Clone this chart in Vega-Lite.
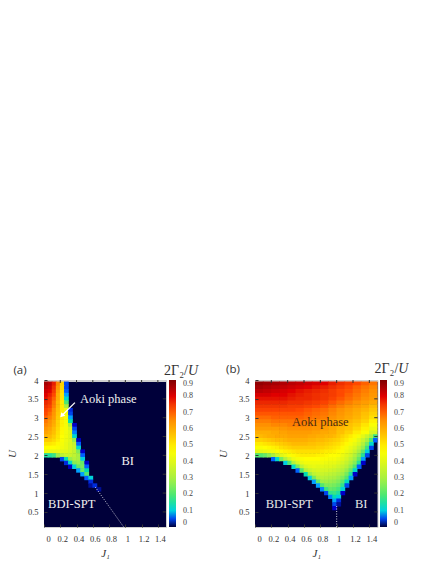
{"$schema":"https://vega.github.io/schema/vega-lite/v6.json","background":"white","padding":{"left":5,"top":361,"right":0,"bottom":0},"spacing":17,"config":{"view":{"fill":"#cfcfcf","stroke":"#cfcfcf"},"axis":{"grid":false,"domain":false,"labelFont":"Liberation Serif","labelFontSize":8.5,"labelColor":"#333333","tickColor":"#333333","titleFont":"Liberation Serif","titleFontStyle":"italic","titleFontWeight":"normal","titleFontSize":11,"titleColor":"#333333"}},
"datasets":{
"frame":[{"J":0,"J2":1.5,"U":0.1,"U2":3.95,"v":0}],
"topTicks":[{"J":0.2,"U":4,"U2":3.92},{"J":0.4,"U":4,"U2":3.92},{"J":0.6,"U":4,"U2":3.92},{"J":0.8,"U":4,"U2":3.92},{"J":1,"U":4,"U2":3.92},{"J":1.2,"U":4,"U2":3.92},{"J":1.4,"U":4,"U2":3.92}],
"rightTicks":[{"J":1.5,"J2":1.46,"U":0.5},{"J":1.5,"J2":1.46,"U":1},{"J":1.5,"J2":1.46,"U":1.5},{"J":1.5,"J2":1.46,"U":2},{"J":1.5,"J2":1.46,"U":2.5},{"J":1.5,"J2":1.46,"U":3},{"J":1.5,"J2":1.46,"U":3.5}],
"cellsA":[
{"J":0.025,"U":3.9,"v":0.86},{"J":0.075,"U":3.9,"v":0.84},{"J":0.125,"U":3.9,"v":0.78},{"J":0.175,"U":3.9,"v":0.66},{"J":0.225,"U":3.9,"v":0.54},{"J":0.275,"U":3.9,"v":0.05},
{"J":0.025,"U":3.8,"v":0.84},{"J":0.075,"U":3.8,"v":0.82},{"J":0.125,"U":3.8,"v":0.76},{"J":0.175,"U":3.8,"v":0.64},{"J":0.225,"U":3.8,"v":0.53},{"J":0.275,"U":3.8,"v":0.05},
{"J":0.025,"U":3.7,"v":0.82},{"J":0.075,"U":3.7,"v":0.8},{"J":0.125,"U":3.7,"v":0.74},{"J":0.175,"U":3.7,"v":0.62},{"J":0.225,"U":3.7,"v":0.52},{"J":0.275,"U":3.7,"v":0.06},
{"J":0.025,"U":3.6,"v":0.8},{"J":0.075,"U":3.6,"v":0.78},{"J":0.125,"U":3.6,"v":0.72},{"J":0.175,"U":3.6,"v":0.6},{"J":0.225,"U":3.6,"v":0.51},{"J":0.275,"U":3.6,"v":0.08},
{"J":0.025,"U":3.5,"v":0.79},{"J":0.075,"U":3.5,"v":0.76},{"J":0.125,"U":3.5,"v":0.7},{"J":0.175,"U":3.5,"v":0.6},{"J":0.225,"U":3.5,"v":0.51},{"J":0.275,"U":3.5,"v":0.12},
{"J":0.025,"U":3.4,"v":0.77},{"J":0.075,"U":3.4,"v":0.75},{"J":0.125,"U":3.4,"v":0.68},{"J":0.175,"U":3.4,"v":0.58},{"J":0.225,"U":3.4,"v":0.5},{"J":0.275,"U":3.4,"v":0.2},
{"J":0.025,"U":3.3,"v":0.75},{"J":0.075,"U":3.3,"v":0.73},{"J":0.125,"U":3.3,"v":0.67},{"J":0.175,"U":3.3,"v":0.58},{"J":0.225,"U":3.3,"v":0.5},{"J":0.275,"U":3.3,"v":0.3},
{"J":0.025,"U":3.2,"v":0.73},{"J":0.075,"U":3.2,"v":0.71},{"J":0.125,"U":3.2,"v":0.65},{"J":0.175,"U":3.2,"v":0.57},{"J":0.225,"U":3.2,"v":0.5},{"J":0.275,"U":3.2,"v":0.43},{"J":0.325,"U":3.2,"v":0.04},
{"J":0.025,"U":3.1,"v":0.72},{"J":0.075,"U":3.1,"v":0.69},{"J":0.125,"U":3.1,"v":0.64},{"J":0.175,"U":3.1,"v":0.56},{"J":0.225,"U":3.1,"v":0.5},{"J":0.275,"U":3.1,"v":0.44},{"J":0.325,"U":3.1,"v":0.05},
{"J":0.025,"U":3.0,"v":0.7},{"J":0.075,"U":3.0,"v":0.67},{"J":0.125,"U":3.0,"v":0.63},{"J":0.175,"U":3.0,"v":0.55},{"J":0.225,"U":3.0,"v":0.5},{"J":0.275,"U":3.0,"v":0.45},{"J":0.325,"U":3.0,"v":0.08},
{"J":0.025,"U":2.9,"v":0.68},{"J":0.075,"U":2.9,"v":0.65},{"J":0.125,"U":2.9,"v":0.61},{"J":0.175,"U":2.9,"v":0.54},{"J":0.225,"U":2.9,"v":0.49},{"J":0.275,"U":2.9,"v":0.45},{"J":0.325,"U":2.9,"v":0.14},
{"J":0.025,"U":2.8,"v":0.66},{"J":0.075,"U":2.8,"v":0.64},{"J":0.125,"U":2.8,"v":0.6},{"J":0.175,"U":2.8,"v":0.54},{"J":0.225,"U":2.8,"v":0.49},{"J":0.275,"U":2.8,"v":0.45},{"J":0.325,"U":2.8,"v":0.3},{"J":0.375,"U":2.8,"v":0.03},
{"J":0.025,"U":2.7,"v":0.64},{"J":0.075,"U":2.7,"v":0.62},{"J":0.125,"U":2.7,"v":0.58},{"J":0.175,"U":2.7,"v":0.53},{"J":0.225,"U":2.7,"v":0.48},{"J":0.275,"U":2.7,"v":0.45},{"J":0.325,"U":2.7,"v":0.38},{"J":0.375,"U":2.7,"v":0.05},
{"J":0.025,"U":2.6,"v":0.62},{"J":0.075,"U":2.6,"v":0.6},{"J":0.125,"U":2.6,"v":0.57},{"J":0.175,"U":2.6,"v":0.52},{"J":0.225,"U":2.6,"v":0.48},{"J":0.275,"U":2.6,"v":0.44},{"J":0.325,"U":2.6,"v":0.4},{"J":0.375,"U":2.6,"v":0.07},
{"J":0.025,"U":2.5,"v":0.59},{"J":0.075,"U":2.5,"v":0.58},{"J":0.125,"U":2.5,"v":0.55},{"J":0.175,"U":2.5,"v":0.51},{"J":0.225,"U":2.5,"v":0.47},{"J":0.275,"U":2.5,"v":0.44},{"J":0.325,"U":2.5,"v":0.4},{"J":0.375,"U":2.5,"v":0.12},
{"J":0.025,"U":2.4,"v":0.55},{"J":0.075,"U":2.4,"v":0.55},{"J":0.125,"U":2.4,"v":0.53},{"J":0.175,"U":2.4,"v":0.5},{"J":0.225,"U":2.4,"v":0.46},{"J":0.275,"U":2.4,"v":0.43},{"J":0.325,"U":2.4,"v":0.4},{"J":0.375,"U":2.4,"v":0.28},{"J":0.425,"U":2.4,"v":0.03},
{"J":0.025,"U":2.3,"v":0.51},{"J":0.075,"U":2.3,"v":0.51},{"J":0.125,"U":2.3,"v":0.5},{"J":0.175,"U":2.3,"v":0.48},{"J":0.225,"U":2.3,"v":0.45},{"J":0.275,"U":2.3,"v":0.42},{"J":0.325,"U":2.3,"v":0.39},{"J":0.375,"U":2.3,"v":0.35},{"J":0.425,"U":2.3,"v":0.06},
{"J":0.025,"U":2.2,"v":0.47},{"J":0.075,"U":2.2,"v":0.47},{"J":0.125,"U":2.2,"v":0.47},{"J":0.175,"U":2.2,"v":0.46},{"J":0.225,"U":2.2,"v":0.44},{"J":0.275,"U":2.2,"v":0.42},{"J":0.325,"U":2.2,"v":0.39},{"J":0.375,"U":2.2,"v":0.36},{"J":0.425,"U":2.2,"v":0.12},
{"J":0.025,"U":2.1,"v":0.42},{"J":0.075,"U":2.1,"v":0.42},{"J":0.125,"U":2.1,"v":0.42},{"J":0.175,"U":2.1,"v":0.42},{"J":0.225,"U":2.1,"v":0.41},{"J":0.275,"U":2.1,"v":0.4},{"J":0.325,"U":2.1,"v":0.38},{"J":0.375,"U":2.1,"v":0.35},{"J":0.425,"U":2.1,"v":0.25},{"J":0.475,"U":2.1,"v":0.03},
{"J":0.025,"U":2.0,"v":0.15},{"J":0.075,"U":2.0,"v":0.15},{"J":0.125,"U":2.0,"v":0.18},{"J":0.175,"U":2.0,"v":0.28},{"J":0.225,"U":2.0,"v":0.33},{"J":0.275,"U":2.0,"v":0.36},{"J":0.325,"U":2.0,"v":0.36},{"J":0.375,"U":2.0,"v":0.34},{"J":0.425,"U":2.0,"v":0.3},{"J":0.475,"U":2.0,"v":0.06},
{"J":0.225,"U":1.9,"v":0.05},{"J":0.275,"U":1.9,"v":0.14},{"J":0.325,"U":1.9,"v":0.28},{"J":0.375,"U":1.9,"v":0.32},{"J":0.425,"U":1.9,"v":0.3},{"J":0.475,"U":1.9,"v":0.1},
{"J":0.275,"U":1.8,"v":0.04},{"J":0.325,"U":1.8,"v":0.12},{"J":0.375,"U":1.8,"v":0.26},{"J":0.425,"U":1.8,"v":0.28},{"J":0.475,"U":1.8,"v":0.22},{"J":0.525,"U":1.8,"v":0.03},
{"J":0.325,"U":1.7,"v":0.03},{"J":0.375,"U":1.7,"v":0.1},{"J":0.425,"U":1.7,"v":0.22},{"J":0.475,"U":1.7,"v":0.24},{"J":0.525,"U":1.7,"v":0.06},
{"J":0.425,"U":1.6,"v":0.08},{"J":0.475,"U":1.6,"v":0.22},{"J":0.525,"U":1.6,"v":0.14},
{"J":0.475,"U":1.5,"v":0.08},{"J":0.525,"U":1.5,"v":0.2},
{"J":0.525,"U":1.4,"v":0.06},{"J":0.575,"U":1.4,"v":0.11},
{"J":0.575,"U":1.3,"v":0.04},
{"J":0.575,"U":1.2,"v":0.02},{"J":0.625,"U":1.2,"v":0.04},
{"J":0.675,"U":1.1,"v":0.02}],
"coarseB":[
{"J":0.05,"U":3.9,"v":0.88},{"J":0.15,"U":3.9,"v":0.87},{"J":0.25,"U":3.9,"v":0.86},{"J":0.35,"U":3.9,"v":0.85},{"J":0.45,"U":3.9,"v":0.84},{"J":0.55,"U":3.9,"v":0.83},{"J":0.65,"U":3.9,"v":0.82},{"J":0.75,"U":3.9,"v":0.81},{"J":0.85,"U":3.9,"v":0.8},{"J":0.95,"U":3.9,"v":0.78},{"J":1.05,"U":3.9,"v":0.76},{"J":1.15,"U":3.9,"v":0.74},{"J":1.25,"U":3.9,"v":0.72},{"J":1.35,"U":3.9,"v":0.7},{"J":1.45,"U":3.9,"v":0.68},
{"J":0.05,"U":3.8,"v":0.86},{"J":0.15,"U":3.8,"v":0.85},{"J":0.25,"U":3.8,"v":0.84},{"J":0.35,"U":3.8,"v":0.83},{"J":0.45,"U":3.8,"v":0.82},{"J":0.55,"U":3.8,"v":0.81},{"J":0.65,"U":3.8,"v":0.8},{"J":0.75,"U":3.8,"v":0.79},{"J":0.85,"U":3.8,"v":0.78},{"J":0.95,"U":3.8,"v":0.76},{"J":1.05,"U":3.8,"v":0.74},{"J":1.15,"U":3.8,"v":0.72},{"J":1.25,"U":3.8,"v":0.7},{"J":1.35,"U":3.8,"v":0.68},{"J":1.45,"U":3.8,"v":0.66},
{"J":0.05,"U":3.7,"v":0.84},{"J":0.15,"U":3.7,"v":0.83},{"J":0.25,"U":3.7,"v":0.82},{"J":0.35,"U":3.7,"v":0.81},{"J":0.45,"U":3.7,"v":0.8},{"J":0.55,"U":3.7,"v":0.79},{"J":0.65,"U":3.7,"v":0.78},{"J":0.75,"U":3.7,"v":0.77},{"J":0.85,"U":3.7,"v":0.76},{"J":0.95,"U":3.7,"v":0.74},{"J":1.05,"U":3.7,"v":0.72},{"J":1.15,"U":3.7,"v":0.71},{"J":1.25,"U":3.7,"v":0.69},{"J":1.35,"U":3.7,"v":0.67},{"J":1.45,"U":3.7,"v":0.65},
{"J":0.05,"U":3.6,"v":0.81},{"J":0.15,"U":3.6,"v":0.81},{"J":0.25,"U":3.6,"v":0.8},{"J":0.35,"U":3.6,"v":0.8},{"J":0.45,"U":3.6,"v":0.79},{"J":0.55,"U":3.6,"v":0.78},{"J":0.65,"U":3.6,"v":0.77},{"J":0.75,"U":3.6,"v":0.76},{"J":0.85,"U":3.6,"v":0.75},{"J":0.95,"U":3.6,"v":0.74},{"J":1.05,"U":3.6,"v":0.72},{"J":1.15,"U":3.6,"v":0.7},{"J":1.25,"U":3.6,"v":0.68},{"J":1.35,"U":3.6,"v":0.66},{"J":1.45,"U":3.6,"v":0.64},
{"J":0.05,"U":3.5,"v":0.79},{"J":0.15,"U":3.5,"v":0.79},{"J":0.25,"U":3.5,"v":0.79},{"J":0.35,"U":3.5,"v":0.79},{"J":0.45,"U":3.5,"v":0.78},{"J":0.55,"U":3.5,"v":0.77},{"J":0.65,"U":3.5,"v":0.77},{"J":0.75,"U":3.5,"v":0.76},{"J":0.85,"U":3.5,"v":0.75},{"J":0.95,"U":3.5,"v":0.73},{"J":1.05,"U":3.5,"v":0.71},{"J":1.15,"U":3.5,"v":0.69},{"J":1.25,"U":3.5,"v":0.67},{"J":1.35,"U":3.5,"v":0.65},{"J":1.45,"U":3.5,"v":0.63},
{"J":0.05,"U":3.4,"v":0.77},{"J":0.15,"U":3.4,"v":0.77},{"J":0.25,"U":3.4,"v":0.77},{"J":0.35,"U":3.4,"v":0.77},{"J":0.45,"U":3.4,"v":0.76},{"J":0.55,"U":3.4,"v":0.76},{"J":0.65,"U":3.4,"v":0.75},{"J":0.75,"U":3.4,"v":0.74},{"J":0.85,"U":3.4,"v":0.73},{"J":0.95,"U":3.4,"v":0.71},{"J":1.05,"U":3.4,"v":0.69},{"J":1.15,"U":3.4,"v":0.67},{"J":1.25,"U":3.4,"v":0.65},{"J":1.35,"U":3.4,"v":0.63},{"J":1.45,"U":3.4,"v":0.61},
{"J":0.05,"U":3.3,"v":0.75},{"J":0.15,"U":3.3,"v":0.75},{"J":0.25,"U":3.3,"v":0.75},{"J":0.35,"U":3.3,"v":0.75},{"J":0.45,"U":3.3,"v":0.74},{"J":0.55,"U":3.3,"v":0.74},{"J":0.65,"U":3.3,"v":0.73},{"J":0.75,"U":3.3,"v":0.72},{"J":0.85,"U":3.3,"v":0.71},{"J":0.95,"U":3.3,"v":0.69},{"J":1.05,"U":3.3,"v":0.67},{"J":1.15,"U":3.3,"v":0.65},{"J":1.25,"U":3.3,"v":0.63},{"J":1.35,"U":3.3,"v":0.61},{"J":1.45,"U":3.3,"v":0.58},
{"J":0.05,"U":3.2,"v":0.73},{"J":0.15,"U":3.2,"v":0.73},{"J":0.25,"U":3.2,"v":0.73},{"J":0.35,"U":3.2,"v":0.73},{"J":0.45,"U":3.2,"v":0.73},{"J":0.55,"U":3.2,"v":0.72},{"J":0.65,"U":3.2,"v":0.71},{"J":0.75,"U":3.2,"v":0.7},{"J":0.85,"U":3.2,"v":0.69},{"J":0.95,"U":3.2,"v":0.67},{"J":1.05,"U":3.2,"v":0.65},{"J":1.15,"U":3.2,"v":0.63},{"J":1.25,"U":3.2,"v":0.61},{"J":1.35,"U":3.2,"v":0.59},{"J":1.45,"U":3.2,"v":0.56},
{"J":0.05,"U":3.1,"v":0.71},{"J":0.15,"U":3.1,"v":0.71},{"J":0.25,"U":3.1,"v":0.71},{"J":0.35,"U":3.1,"v":0.71},{"J":0.45,"U":3.1,"v":0.71},{"J":0.55,"U":3.1,"v":0.71},{"J":0.65,"U":3.1,"v":0.7},{"J":0.75,"U":3.1,"v":0.69},{"J":0.85,"U":3.1,"v":0.68},{"J":0.95,"U":3.1,"v":0.66},{"J":1.05,"U":3.1,"v":0.64},{"J":1.15,"U":3.1,"v":0.62},{"J":1.25,"U":3.1,"v":0.6},{"J":1.35,"U":3.1,"v":0.57},{"J":1.45,"U":3.1,"v":0.54},
{"J":0.05,"U":3.0,"v":0.69},{"J":0.15,"U":3.0,"v":0.69},{"J":0.25,"U":3.0,"v":0.7},{"J":0.35,"U":3.0,"v":0.7},{"J":0.45,"U":3.0,"v":0.7},{"J":0.55,"U":3.0,"v":0.7},{"J":0.65,"U":3.0,"v":0.69},{"J":0.75,"U":3.0,"v":0.68},{"J":0.85,"U":3.0,"v":0.67},{"J":0.95,"U":3.0,"v":0.65},{"J":1.05,"U":3.0,"v":0.63},{"J":1.15,"U":3.0,"v":0.61},{"J":1.25,"U":3.0,"v":0.59},{"J":1.35,"U":3.0,"v":0.56},{"J":1.45,"U":3.0,"v":0.52},
{"J":0.05,"U":2.9,"v":0.67},{"J":0.15,"U":2.9,"v":0.67},{"J":0.25,"U":2.9,"v":0.68},{"J":0.35,"U":2.9,"v":0.68},{"J":0.45,"U":2.9,"v":0.68},{"J":0.55,"U":2.9,"v":0.68},{"J":0.65,"U":2.9,"v":0.67},{"J":0.75,"U":2.9,"v":0.66},{"J":0.85,"U":2.9,"v":0.65},{"J":0.95,"U":2.9,"v":0.63},{"J":1.05,"U":2.9,"v":0.61},{"J":1.15,"U":2.9,"v":0.59},{"J":1.25,"U":2.9,"v":0.57},{"J":1.35,"U":2.9,"v":0.54},{"J":1.45,"U":2.9,"v":0.49},
{"J":0.05,"U":2.8,"v":0.65},{"J":0.15,"U":2.8,"v":0.65},{"J":0.25,"U":2.8,"v":0.66},{"J":0.35,"U":2.8,"v":0.66},{"J":0.45,"U":2.8,"v":0.67},{"J":0.55,"U":2.8,"v":0.67},{"J":0.65,"U":2.8,"v":0.66},{"J":0.75,"U":2.8,"v":0.65},{"J":0.85,"U":2.8,"v":0.64},{"J":0.95,"U":2.8,"v":0.62},{"J":1.05,"U":2.8,"v":0.6},{"J":1.15,"U":2.8,"v":0.57},{"J":1.25,"U":2.8,"v":0.55},{"J":1.35,"U":2.8,"v":0.51},{"J":1.45,"U":2.8,"v":0.46},
{"J":0.05,"U":2.7,"v":0.63},{"J":0.15,"U":2.7,"v":0.63},{"J":0.25,"U":2.7,"v":0.63},{"J":0.35,"U":2.7,"v":0.64},{"J":0.45,"U":2.7,"v":0.65},{"J":0.55,"U":2.7,"v":0.65},{"J":0.65,"U":2.7,"v":0.65},{"J":0.75,"U":2.7,"v":0.64},{"J":0.85,"U":2.7,"v":0.63},{"J":0.95,"U":2.7,"v":0.61},{"J":1.05,"U":2.7,"v":0.58},{"J":1.15,"U":2.7,"v":0.56},{"J":1.25,"U":2.7,"v":0.53},{"J":1.35,"U":2.7,"v":0.49},{"J":1.45,"U":2.7,"v":0.43},
{"J":0.05,"U":2.6,"v":0.6},{"J":0.15,"U":2.6,"v":0.6},{"J":0.25,"U":2.6,"v":0.61},{"J":0.35,"U":2.6,"v":0.62},{"J":0.45,"U":2.6,"v":0.63},{"J":0.55,"U":2.6,"v":0.63},{"J":0.65,"U":2.6,"v":0.63},{"J":0.75,"U":2.6,"v":0.62},{"J":0.85,"U":2.6,"v":0.61},{"J":0.95,"U":2.6,"v":0.6},{"J":1.05,"U":2.6,"v":0.57},{"J":1.15,"U":2.6,"v":0.54},{"J":1.25,"U":2.6,"v":0.5},{"J":1.35,"U":2.6,"v":0.46},{"J":1.45,"U":2.6,"v":0.38}],
"cellsB":[
{"J":0.025,"U":2.5,"v":0.58},{"J":0.075,"U":2.5,"v":0.58},{"J":0.125,"U":2.5,"v":0.59},{"J":0.175,"U":2.5,"v":0.6},{"J":0.225,"U":2.5,"v":0.6},{"J":0.275,"U":2.5,"v":0.61},{"J":0.325,"U":2.5,"v":0.61},{"J":0.375,"U":2.5,"v":0.61},{"J":0.425,"U":2.5,"v":0.62},{"J":0.475,"U":2.5,"v":0.62},{"J":0.525,"U":2.5,"v":0.62},{"J":0.575,"U":2.5,"v":0.62},{"J":0.625,"U":2.5,"v":0.62},{"J":0.675,"U":2.5,"v":0.61},{"J":0.725,"U":2.5,"v":0.61},{"J":0.775,"U":2.5,"v":0.6},{"J":0.825,"U":2.5,"v":0.6},{"J":0.875,"U":2.5,"v":0.59},{"J":0.925,"U":2.5,"v":0.59},{"J":0.975,"U":2.5,"v":0.58},{"J":1.025,"U":2.5,"v":0.56},{"J":1.075,"U":2.5,"v":0.54},{"J":1.125,"U":2.5,"v":0.52},{"J":1.175,"U":2.5,"v":0.5},{"J":1.225,"U":2.5,"v":0.48},{"J":1.275,"U":2.5,"v":0.45},{"J":1.325,"U":2.5,"v":0.41},{"J":1.375,"U":2.5,"v":0.36},{"J":1.425,"U":2.5,"v":0.3},{"J":1.475,"U":2.5,"v":0.18},
{"J":0.025,"U":2.4,"v":0.54},{"J":0.075,"U":2.4,"v":0.54},{"J":0.125,"U":2.4,"v":0.55},{"J":0.175,"U":2.4,"v":0.56},{"J":0.225,"U":2.4,"v":0.57},{"J":0.275,"U":2.4,"v":0.58},{"J":0.325,"U":2.4,"v":0.58},{"J":0.375,"U":2.4,"v":0.59},{"J":0.425,"U":2.4,"v":0.6},{"J":0.475,"U":2.4,"v":0.6},{"J":0.525,"U":2.4,"v":0.6},{"J":0.575,"U":2.4,"v":0.6},{"J":0.625,"U":2.4,"v":0.6},{"J":0.675,"U":2.4,"v":0.59},{"J":0.725,"U":2.4,"v":0.59},{"J":0.775,"U":2.4,"v":0.58},{"J":0.825,"U":2.4,"v":0.58},{"J":0.875,"U":2.4,"v":0.57},{"J":0.925,"U":2.4,"v":0.56},{"J":0.975,"U":2.4,"v":0.55},{"J":1.025,"U":2.4,"v":0.54},{"J":1.075,"U":2.4,"v":0.52},{"J":1.125,"U":2.4,"v":0.5},{"J":1.175,"U":2.4,"v":0.48},{"J":1.225,"U":2.4,"v":0.45},{"J":1.275,"U":2.4,"v":0.41},{"J":1.325,"U":2.4,"v":0.36},{"J":1.375,"U":2.4,"v":0.3},{"J":1.425,"U":2.4,"v":0.2},{"J":1.475,"U":2.4,"v":0.06},
{"J":0.025,"U":2.3,"v":0.5},{"J":0.075,"U":2.3,"v":0.5},{"J":0.125,"U":2.3,"v":0.51},{"J":0.175,"U":2.3,"v":0.52},{"J":0.225,"U":2.3,"v":0.53},{"J":0.275,"U":2.3,"v":0.54},{"J":0.325,"U":2.3,"v":0.55},{"J":0.375,"U":2.3,"v":0.56},{"J":0.425,"U":2.3,"v":0.57},{"J":0.475,"U":2.3,"v":0.58},{"J":0.525,"U":2.3,"v":0.58},{"J":0.575,"U":2.3,"v":0.58},{"J":0.625,"U":2.3,"v":0.58},{"J":0.675,"U":2.3,"v":0.57},{"J":0.725,"U":2.3,"v":0.57},{"J":0.775,"U":2.3,"v":0.56},{"J":0.825,"U":2.3,"v":0.56},{"J":0.875,"U":2.3,"v":0.55},{"J":0.925,"U":2.3,"v":0.54},{"J":0.975,"U":2.3,"v":0.53},{"J":1.025,"U":2.3,"v":0.52},{"J":1.075,"U":2.3,"v":0.5},{"J":1.125,"U":2.3,"v":0.48},{"J":1.175,"U":2.3,"v":0.45},{"J":1.225,"U":2.3,"v":0.42},{"J":1.275,"U":2.3,"v":0.38},{"J":1.325,"U":2.3,"v":0.32},{"J":1.375,"U":2.3,"v":0.24},{"J":1.425,"U":2.3,"v":0.12},
{"J":0.025,"U":2.2,"v":0.46},{"J":0.075,"U":2.2,"v":0.46},{"J":0.125,"U":2.2,"v":0.47},{"J":0.175,"U":2.2,"v":0.48},{"J":0.225,"U":2.2,"v":0.49},{"J":0.275,"U":2.2,"v":0.5},{"J":0.325,"U":2.2,"v":0.52},{"J":0.375,"U":2.2,"v":0.53},{"J":0.425,"U":2.2,"v":0.54},{"J":0.475,"U":2.2,"v":0.55},{"J":0.525,"U":2.2,"v":0.55},{"J":0.575,"U":2.2,"v":0.55},{"J":0.625,"U":2.2,"v":0.55},{"J":0.675,"U":2.2,"v":0.55},{"J":0.725,"U":2.2,"v":0.55},{"J":0.775,"U":2.2,"v":0.54},{"J":0.825,"U":2.2,"v":0.54},{"J":0.875,"U":2.2,"v":0.53},{"J":0.925,"U":2.2,"v":0.52},{"J":0.975,"U":2.2,"v":0.51},{"J":1.025,"U":2.2,"v":0.5},{"J":1.075,"U":2.2,"v":0.48},{"J":1.125,"U":2.2,"v":0.45},{"J":1.175,"U":2.2,"v":0.42},{"J":1.225,"U":2.2,"v":0.39},{"J":1.275,"U":2.2,"v":0.34},{"J":1.325,"U":2.2,"v":0.28},{"J":1.375,"U":2.2,"v":0.18},{"J":1.425,"U":2.2,"v":0.05},
{"J":0.025,"U":2.1,"v":0.4},{"J":0.075,"U":2.1,"v":0.41},{"J":0.125,"U":2.1,"v":0.42},{"J":0.175,"U":2.1,"v":0.43},{"J":0.225,"U":2.1,"v":0.44},{"J":0.275,"U":2.1,"v":0.46},{"J":0.325,"U":2.1,"v":0.48},{"J":0.375,"U":2.1,"v":0.49},{"J":0.425,"U":2.1,"v":0.5},{"J":0.475,"U":2.1,"v":0.51},{"J":0.525,"U":2.1,"v":0.52},{"J":0.575,"U":2.1,"v":0.52},{"J":0.625,"U":2.1,"v":0.52},{"J":0.675,"U":2.1,"v":0.52},{"J":0.725,"U":2.1,"v":0.52},{"J":0.775,"U":2.1,"v":0.52},{"J":0.825,"U":2.1,"v":0.51},{"J":0.875,"U":2.1,"v":0.5},{"J":0.925,"U":2.1,"v":0.5},{"J":0.975,"U":2.1,"v":0.49},{"J":1.025,"U":2.1,"v":0.48},{"J":1.075,"U":2.1,"v":0.46},{"J":1.125,"U":2.1,"v":0.43},{"J":1.175,"U":2.1,"v":0.4},{"J":1.225,"U":2.1,"v":0.36},{"J":1.275,"U":2.1,"v":0.3},{"J":1.325,"U":2.1,"v":0.22},{"J":1.375,"U":2.1,"v":0.1},
{"J":0.025,"U":2.0,"v":0.2},{"J":0.075,"U":2.0,"v":0.2},{"J":0.125,"U":2.0,"v":0.22},{"J":0.175,"U":2.0,"v":0.26},{"J":0.225,"U":2.0,"v":0.3},{"J":0.275,"U":2.0,"v":0.36},{"J":0.325,"U":2.0,"v":0.4},{"J":0.375,"U":2.0,"v":0.43},{"J":0.425,"U":2.0,"v":0.46},{"J":0.475,"U":2.0,"v":0.48},{"J":0.525,"U":2.0,"v":0.49},{"J":0.575,"U":2.0,"v":0.5},{"J":0.625,"U":2.0,"v":0.5},{"J":0.675,"U":2.0,"v":0.5},{"J":0.725,"U":2.0,"v":0.5},{"J":0.775,"U":2.0,"v":0.49},{"J":0.825,"U":2.0,"v":0.49},{"J":0.875,"U":2.0,"v":0.48},{"J":0.925,"U":2.0,"v":0.47},{"J":0.975,"U":2.0,"v":0.47},{"J":1.025,"U":2.0,"v":0.46},{"J":1.075,"U":2.0,"v":0.43},{"J":1.125,"U":2.0,"v":0.4},{"J":1.175,"U":2.0,"v":0.37},{"J":1.225,"U":2.0,"v":0.32},{"J":1.275,"U":2.0,"v":0.26},{"J":1.325,"U":2.0,"v":0.16},{"J":1.375,"U":2.0,"v":0.05},
{"J":0.225,"U":1.9,"v":0.06},{"J":0.275,"U":1.9,"v":0.12},{"J":0.325,"U":1.9,"v":0.24},{"J":0.375,"U":1.9,"v":0.32},{"J":0.425,"U":1.9,"v":0.38},{"J":0.475,"U":1.9,"v":0.43},{"J":0.525,"U":1.9,"v":0.45},{"J":0.575,"U":1.9,"v":0.46},{"J":0.625,"U":1.9,"v":0.47},{"J":0.675,"U":1.9,"v":0.47},{"J":0.725,"U":1.9,"v":0.47},{"J":0.775,"U":1.9,"v":0.47},{"J":0.825,"U":1.9,"v":0.46},{"J":0.875,"U":1.9,"v":0.46},{"J":0.925,"U":1.9,"v":0.45},{"J":0.975,"U":1.9,"v":0.45},{"J":1.025,"U":1.9,"v":0.43},{"J":1.075,"U":1.9,"v":0.41},{"J":1.125,"U":1.9,"v":0.38},{"J":1.175,"U":1.9,"v":0.34},{"J":1.225,"U":1.9,"v":0.29},{"J":1.275,"U":1.9,"v":0.22},{"J":1.325,"U":1.9,"v":0.08},
{"J":0.375,"U":1.8,"v":0.1},{"J":0.425,"U":1.8,"v":0.2},{"J":0.475,"U":1.8,"v":0.32},{"J":0.525,"U":1.8,"v":0.38},{"J":0.575,"U":1.8,"v":0.42},{"J":0.625,"U":1.8,"v":0.44},{"J":0.675,"U":1.8,"v":0.44},{"J":0.725,"U":1.8,"v":0.44},{"J":0.775,"U":1.8,"v":0.44},{"J":0.825,"U":1.8,"v":0.44},{"J":0.875,"U":1.8,"v":0.43},{"J":0.925,"U":1.8,"v":0.42},{"J":0.975,"U":1.8,"v":0.42},{"J":1.025,"U":1.8,"v":0.4},{"J":1.075,"U":1.8,"v":0.38},{"J":1.125,"U":1.8,"v":0.35},{"J":1.175,"U":1.8,"v":0.31},{"J":1.225,"U":1.8,"v":0.26},{"J":1.275,"U":1.8,"v":0.16},{"J":1.325,"U":1.8,"v":0.03},
{"J":0.475,"U":1.7,"v":0.12},{"J":0.525,"U":1.7,"v":0.24},{"J":0.575,"U":1.7,"v":0.34},{"J":0.625,"U":1.7,"v":0.39},{"J":0.675,"U":1.7,"v":0.41},{"J":0.725,"U":1.7,"v":0.42},{"J":0.775,"U":1.7,"v":0.41},{"J":0.825,"U":1.7,"v":0.41},{"J":0.875,"U":1.7,"v":0.4},{"J":0.925,"U":1.7,"v":0.4},{"J":0.975,"U":1.7,"v":0.39},{"J":1.025,"U":1.7,"v":0.37},{"J":1.075,"U":1.7,"v":0.35},{"J":1.125,"U":1.7,"v":0.32},{"J":1.175,"U":1.7,"v":0.27},{"J":1.225,"U":1.7,"v":0.2},{"J":1.275,"U":1.7,"v":0.06},
{"J":0.525,"U":1.6,"v":0.06},{"J":0.575,"U":1.6,"v":0.2},{"J":0.625,"U":1.6,"v":0.32},{"J":0.675,"U":1.6,"v":0.36},{"J":0.725,"U":1.6,"v":0.38},{"J":0.775,"U":1.6,"v":0.39},{"J":0.825,"U":1.6,"v":0.38},{"J":0.875,"U":1.6,"v":0.38},{"J":0.925,"U":1.6,"v":0.37},{"J":0.975,"U":1.6,"v":0.36},{"J":1.025,"U":1.6,"v":0.34},{"J":1.075,"U":1.6,"v":0.32},{"J":1.125,"U":1.6,"v":0.28},{"J":1.175,"U":1.6,"v":0.22},{"J":1.225,"U":1.6,"v":0.12},
{"J":0.625,"U":1.5,"v":0.14},{"J":0.675,"U":1.5,"v":0.28},{"J":0.725,"U":1.5,"v":0.34},{"J":0.775,"U":1.5,"v":0.36},{"J":0.825,"U":1.5,"v":0.36},{"J":0.875,"U":1.5,"v":0.35},{"J":0.925,"U":1.5,"v":0.34},{"J":0.975,"U":1.5,"v":0.33},{"J":1.025,"U":1.5,"v":0.31},{"J":1.075,"U":1.5,"v":0.29},{"J":1.125,"U":1.5,"v":0.24},{"J":1.175,"U":1.5,"v":0.16},{"J":1.225,"U":1.5,"v":0.03},
{"J":0.675,"U":1.4,"v":0.1},{"J":0.725,"U":1.4,"v":0.24},{"J":0.775,"U":1.4,"v":0.32},{"J":0.825,"U":1.4,"v":0.33},{"J":0.875,"U":1.4,"v":0.32},{"J":0.925,"U":1.4,"v":0.31},{"J":0.975,"U":1.4,"v":0.3},{"J":1.025,"U":1.4,"v":0.28},{"J":1.075,"U":1.4,"v":0.25},{"J":1.125,"U":1.4,"v":0.2},{"J":1.175,"U":1.4,"v":0.08},
{"J":0.725,"U":1.3,"v":0.08},{"J":0.775,"U":1.3,"v":0.22},{"J":0.825,"U":1.3,"v":0.29},{"J":0.875,"U":1.3,"v":0.29},{"J":0.925,"U":1.3,"v":0.28},{"J":0.975,"U":1.3,"v":0.27},{"J":1.025,"U":1.3,"v":0.25},{"J":1.075,"U":1.3,"v":0.21},{"J":1.125,"U":1.3,"v":0.13},
{"J":0.775,"U":1.2,"v":0.08},{"J":0.825,"U":1.2,"v":0.2},{"J":0.875,"U":1.2,"v":0.25},{"J":0.925,"U":1.2,"v":0.25},{"J":0.975,"U":1.2,"v":0.24},{"J":1.025,"U":1.2,"v":0.22},{"J":1.075,"U":1.2,"v":0.17},{"J":1.125,"U":1.2,"v":0.05},
{"J":0.825,"U":1.1,"v":0.07},{"J":0.875,"U":1.1,"v":0.18},{"J":0.925,"U":1.1,"v":0.22},{"J":0.975,"U":1.1,"v":0.21},{"J":1.025,"U":1.1,"v":0.19},{"J":1.075,"U":1.1,"v":0.11},
{"J":0.875,"U":1.0,"v":0.05},{"J":0.925,"U":1.0,"v":0.17},{"J":0.975,"U":1.0,"v":0.18},{"J":1.025,"U":1.0,"v":0.15},{"J":1.075,"U":1.0,"v":0.03},
{"J":0.925,"U":0.9,"v":0.07},{"J":0.975,"U":0.9,"v":0.14},{"J":1.025,"U":0.9,"v":0.1},
{"J":0.975,"U":0.8,"v":0.08},{"J":1.025,"U":0.8,"v":0.04},
{"J":0.975,"U":0.7,"v":0.05},{"J":1.025,"U":0.7,"v":0.02},
{"J":0.975,"U":0.6,"v":0.03}]
},
"hconcat":[
{"width":122,"height":147,"encoding":{"x":{"field":"J","type":"quantitative","title":"J₁","scale":{"domain":[0,1.5],"nice":false},"axis":{"values":[0,0.2,0.4,0.6,0.8,1,1.2,1.4],"format":"~g","labelOverlap":false,"zindex":1,"tickSize":-3,"labelOffset":2,"labelPadding":10,"titlePadding":5}},"y":{"field":"U","type":"quantitative","title":"U","scale":{"domain":[0.1,4],"nice":false},"axis":{"values":[0.5,1,1.5,2,2.5,3,3.5,4],"format":"~g","labelOverlap":false,"zindex":1,"tickSize":-3,"labelPadding":9,"titlePadding":10}}},"layer":[
{"data":{"name":"frame"},"mark":{"type":"rect"},"encoding":{"x2":{"field":"J2"},"y2":{"field":"U2"},"color":{"field":"v","type":"quantitative","scale":{"domain":[0,0.03,0.06,0.1,0.15,0.2,0.3,0.4,0.47,0.55,0.65,0.72,0.8,0.9],"range":["#00003a","#0000c8","#0060ff","#00d0e0","#20e0a0","#50e870","#a8f040","#e0f818","#ffff00","#ffcc00","#ff9000","#ff4800","#e00000","#800000"]},"legend":{"title":null,"orient":"none","legendX":125,"legendY":0,"gradientLength":147,"gradientThickness":7,"values":[0,0.1,0.2,0.3,0.4,0.5,0.6,0.7,0.8,0.9],"format":"~g","labelOverlap":false,"labelFont":"Liberation Serif","labelFontSize":8,"labelColor":"#444444","labelOffset":7,"gradientStrokeColor":"#cccccc"}}}},
{"data":{"name":"cellsA"},"mark":{"type":"rect","width":4.8,"height":4.4,"clip":true},"encoding":{"color":{"field":"v","type":"quantitative"}}},
{"data":{"name":"topTicks"},"mark":{"type":"rule","color":"#333333","strokeWidth":1},"encoding":{"y2":{"field":"U2"}}},
{"data":{"name":"rightTicks"},"mark":{"type":"rule","color":"#333333","strokeWidth":1},"encoding":{"x2":{"field":"J2"}}},
{"data":{"values":[{"J":0.63,"U":1.16},{"J":0.98,"U":0.1}]},"mark":{"type":"line","color":"white","strokeWidth":0.8,"strokeDash":[1,1.5]},"encoding":{}},
{"data":{"values":[{"J":0.38,"U":3.4},{"J":0.23,"U":3.08}]},"mark":{"type":"line","color":"white","strokeWidth":1.3},"encoding":{}},
{"data":{"values":[{"J":0.225,"U":3.07}]},"mark":{"type":"point","shape":"triangle","filled":true,"color":"white","opacity":1,"size":28,"angle":222}},
{"data":{"values":[{"J":0.79,"U":3.5,"t":"Aoki phase"},{"J":1.03,"U":1.85,"t":"BI"},{"J":0.34,"U":0.7,"t":"BDI-SPT"}]},"mark":{"type":"text","font":"Liberation Serif","fontSize":12.5,"color":"#f0f0f0"},"encoding":{"text":{"field":"t"}}},
{"data":{"values":[{"J":-0.295,"U":4.24,"t":"(a)"}]},"mark":{"type":"text","font":"Open Sans","fontSize":11.5,"color":"#333333","clip":false},"encoding":{"text":{"field":"t"}}},
{"data":{"values":[{"J":1.77,"U":4.24,"t":"2Γ₂/"}]},"mark":{"type":"text","font":"Liberation Serif","fontSize":14,"align":"right","color":"#333333"},"encoding":{"text":{"field":"t"}}},
{"data":{"values":[{"J":1.77,"U":4.24,"t":"U"}]},"mark":{"type":"text","font":"Liberation Serif","fontSize":14,"fontStyle":"italic","align":"left","color":"#333333"},"encoding":{"text":{"field":"t"}}}
]},
{"width":122.5,"height":147,"encoding":{"x":{"field":"J","type":"quantitative","title":"J₁","scale":{"domain":[0,1.5],"nice":false},"axis":{"values":[0,0.2,0.4,0.6,0.8,1,1.2,1.4],"format":"~g","labelOverlap":false,"zindex":1,"tickSize":-3,"labelOffset":2,"labelPadding":10,"titlePadding":5}},"y":{"field":"U","type":"quantitative","title":"U","scale":{"domain":[0.1,4],"nice":false},"axis":{"values":[0.5,1,1.5,2,2.5,3,3.5,4],"format":"~g","labelOverlap":false,"zindex":1,"tickSize":-3,"labelPadding":9,"titlePadding":10}}},"layer":[
{"data":{"name":"frame"},"mark":{"type":"rect"},"encoding":{"x2":{"field":"J2"},"y2":{"field":"U2"},"color":{"field":"v","type":"quantitative","scale":{"domain":[0,0.03,0.06,0.1,0.15,0.2,0.3,0.4,0.47,0.55,0.65,0.72,0.8,0.9],"range":["#00003a","#0000c8","#0060ff","#00d0e0","#20e0a0","#50e870","#a8f040","#e0f818","#ffff00","#ffcc00","#ff9000","#ff4800","#e00000","#800000"]},"legend":{"title":null,"orient":"none","legendX":125,"legendY":0,"gradientLength":147,"gradientThickness":7,"values":[0,0.1,0.2,0.3,0.4,0.5,0.6,0.7,0.8,0.9],"format":"~g","labelOverlap":false,"labelFont":"Liberation Serif","labelFontSize":8,"labelColor":"#444444","labelOffset":7,"gradientStrokeColor":"#cccccc"}}}},
{"data":{"name":"coarseB"},"mark":{"type":"rect","width":8.8,"height":4.4,"clip":true},"encoding":{"color":{"field":"v","type":"quantitative"}}},
{"data":{"name":"cellsB"},"mark":{"type":"rect","width":4.8,"height":4.4,"clip":true},"encoding":{"color":{"field":"v","type":"quantitative"}}},
{"data":{"name":"topTicks"},"mark":{"type":"rule","color":"#333333","strokeWidth":1},"encoding":{"y2":{"field":"U2"}}},
{"data":{"name":"rightTicks"},"mark":{"type":"rule","color":"#333333","strokeWidth":1},"encoding":{"x2":{"field":"J2"}}},
{"data":{"values":[{"J":1,"U":0.1},{"J":1,"U":0.7}]},"mark":{"type":"line","color":"white","strokeWidth":0.8,"strokeDash":[1,1.5]},"encoding":{}},
{"data":{"values":[{"J":0.8,"U":2.88,"t":"Aoki phase"}]},"mark":{"type":"text","font":"Liberation Serif","fontSize":12.5,"color":"#4a2a10"},"encoding":{"text":{"field":"t"}}},
{"data":{"values":[{"J":1.3,"U":0.7,"t":"BI"},{"J":0.42,"U":0.7,"t":"BDI-SPT"}]},"mark":{"type":"text","font":"Liberation Serif","fontSize":12.5,"color":"#e8e8e8"},"encoding":{"text":{"field":"t"}}},
{"data":{"values":[{"J":-0.27,"U":4.27,"t":"(b)"}]},"mark":{"type":"text","font":"Open Sans","fontSize":11.5,"color":"#333333","clip":false},"encoding":{"text":{"field":"t"}}},
{"data":{"values":[{"J":1.755,"U":4.29,"t":"2Γ₂/"}]},"mark":{"type":"text","font":"Liberation Serif","fontSize":14,"align":"right","color":"#333333"},"encoding":{"text":{"field":"t"}}},
{"data":{"values":[{"J":1.755,"U":4.29,"t":"U"}]},"mark":{"type":"text","font":"Liberation Serif","fontSize":14,"fontStyle":"italic","align":"left","color":"#333333"},"encoding":{"text":{"field":"t"}}}
]}
],"resolve":{"scale":{"color":"independent"}}}
